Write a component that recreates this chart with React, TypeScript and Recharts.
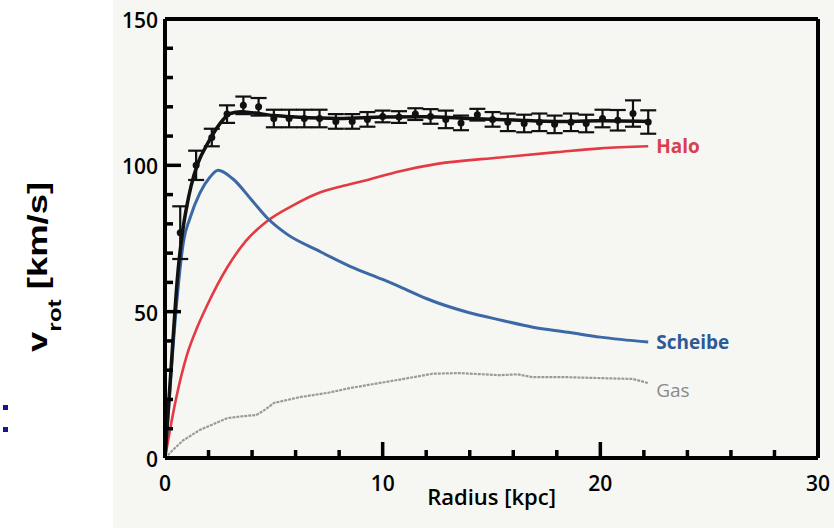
import { ComposedChart, Line, Scatter, ErrorBar, XAxis, YAxis, ReferenceLine } from "recharts";

// --- Messdaten mit Fehlerbalken ---
const measured = [
  { x: 0.7, v: 77, err: 9 },
  { x: 1.43, v: 100, err: 5 },
  { x: 2.15, v: 109.5, err: 3 },
  { x: 2.85, v: 117.5, err: 3 },
  { x: 3.6, v: 120.5, err: 3 },
  { x: 4.3, v: 120, err: 3 },
  { x: 5.0, v: 116, err: 3 },
  { x: 5.7, v: 116, err: 3 },
  { x: 6.4, v: 116, err: 3 },
  { x: 7.1, v: 116, err: 3 },
  { x: 7.85, v: 115, err: 2.5 },
  { x: 8.6, v: 115, err: 2.5 },
  { x: 9.3, v: 115.7, err: 2.5 },
  { x: 10.0, v: 116.7, err: 2 },
  { x: 10.75, v: 116.5, err: 2 },
  { x: 11.5, v: 117.5, err: 2 },
  { x: 12.2, v: 116.7, err: 2.5 },
  { x: 12.9, v: 115.7, err: 3 },
  { x: 13.6, v: 114.5, err: 2.5 },
  { x: 14.35, v: 117.3, err: 2 },
  { x: 15.05, v: 115.7, err: 2.5 },
  { x: 15.75, v: 114.7, err: 3 },
  { x: 16.5, v: 114.3, err: 3 },
  { x: 17.2, v: 114.7, err: 3 },
  { x: 17.9, v: 114, err: 3 },
  { x: 18.65, v: 114.7, err: 3 },
  { x: 19.35, v: 114.3, err: 3 },
  { x: 20.1, v: 116, err: 3 },
  { x: 20.8, v: 115.4, err: 3.5 },
  { x: 21.5, v: 117.7, err: 4.5 },
  { x: 22.2, v: 114.8, err: 4 },
];

// --- Modellkurven ---
const total = [
  { x: 0, v: 0 }, { x: 0.3, v: 33 }, { x: 0.6, v: 64 }, { x: 0.8, v: 77 },
  { x: 1.0, v: 86 }, { x: 1.2, v: 93 }, { x: 1.5, v: 100.5 }, { x: 2.0, v: 108 },
  { x: 2.5, v: 114 }, { x: 3.0, v: 117.7 }, { x: 3.5, v: 118.3 }, { x: 4.0, v: 118 },
  { x: 5.0, v: 117 }, { x: 6.0, v: 116.5 }, { x: 8.0, v: 116 }, { x: 10.0, v: 116.5 },
  { x: 12.0, v: 116.6 }, { x: 14.0, v: 116 }, { x: 16.0, v: 115.5 }, { x: 18.0, v: 115 },
  { x: 20.0, v: 115.2 }, { x: 22.2, v: 115 },
];

const halo = [
  { x: 0, v: 0 }, { x: 0.23, v: 9.6 }, { x: 0.5, v: 20 }, { x: 1.0, v: 35 },
  { x: 1.5, v: 45 }, { x: 1.9, v: 51.6 }, { x: 2.85, v: 65 }, { x: 3.7, v: 74 },
  { x: 4.7, v: 81 }, { x: 5.8, v: 86 }, { x: 7.0, v: 90.4 }, { x: 8.2, v: 93 },
  { x: 9.3, v: 95 }, { x: 10.8, v: 98 }, { x: 12.5, v: 100.5 }, { x: 15.4, v: 102.7 },
  { x: 18.0, v: 104.5 }, { x: 20.0, v: 105.8 }, { x: 22.2, v: 106.5 },
];

const disk = [
  { x: 0, v: 0 }, { x: 0.15, v: 15 }, { x: 0.37, v: 38 }, { x: 0.6, v: 58 },
  { x: 0.85, v: 74 }, { x: 1.15, v: 82 }, { x: 1.6, v: 90.5 }, { x: 2.07, v: 96 },
  { x: 2.44, v: 98.3 }, { x: 3.1, v: 95.5 }, { x: 4.0, v: 88 }, { x: 4.7, v: 82 },
  { x: 5.6, v: 76.5 }, { x: 7.0, v: 71 }, { x: 8.5, v: 65.5 }, { x: 10.0, v: 61 },
  { x: 10.8, v: 58.5 }, { x: 12.0, v: 54.5 }, { x: 13.9, v: 49.8 }, { x: 15.5, v: 47 },
  { x: 16.9, v: 44.7 }, { x: 18.5, v: 43 }, { x: 20.0, v: 41.3 }, { x: 22.2, v: 39.6 },
];

const gas = [
  { x: 0, v: 0 }, { x: 0.4, v: 3 }, { x: 0.83, v: 6 }, { x: 1.6, v: 9.6 },
  { x: 2.2, v: 11.5 }, { x: 2.85, v: 13.6 }, { x: 3.6, v: 14.3 }, { x: 4.2, v: 14.7 },
  { x: 4.6, v: 16.5 }, { x: 5.0, v: 18.8 }, { x: 6.2, v: 20.8 }, { x: 7.5, v: 22.3 },
  { x: 8.5, v: 23.9 }, { x: 10.0, v: 25.8 }, { x: 10.8, v: 26.8 }, { x: 12.3, v: 28.8 },
  { x: 13.5, v: 29 }, { x: 15.4, v: 28.3 }, { x: 16.2, v: 28.6 }, { x: 16.9, v: 27.6 },
  { x: 18.5, v: 27.6 }, { x: 20.0, v: 27.3 }, { x: 21.5, v: 27 }, { x: 22.2, v: 25.6 },
];

// --- Achsen ---
const xTicks = [0, 2, 4, 6, 8, 10, 12, 14, 16, 18, 20, 22, 24, 26, 28, 30];
const xLabels = [0, 10, 20, 30];
const yTicks = [0, 10, 20, 30, 40, 50, 60, 70, 80, 90, 100, 110, 120, 130, 140, 150];
const yLabels = [0, 50, 100, 150];

const tickFont = { fontFamily: "'Open Sans', sans-serif", fontSize: 21, fontWeight: 600, fill: "#000" };

const XTick = ({ x, y, payload }: any) => {
  const major = xLabels.includes(payload.value);
  return (
    <g>
      <line x1={x} x2={x} y1={y} y2={y - (major ? 16 : 8)} stroke="#000" strokeWidth={3.5} />
      {major && (
        <text x={x} y={y + 33} textAnchor="middle" {...tickFont}>{payload.value}</text>
      )}
    </g>
  );
};

const YTick = ({ x, y, payload }: any) => {
  const major = yLabels.includes(payload.value);
  return (
    <g>
      <line x1={x} x2={x + (major ? 16 : 8)} y1={y} y2={y} stroke="#000" strokeWidth={3.5} />
      {major && (
        <text x={x - 7} y={y + 9} textAnchor="end" {...tickFont}>{payload.value}</text>
      )}
    </g>
  );
};

const endLabel = (data: any[], text: string, color: string, weight: number, dy: number) =>
  (props: any) => {
    if (props.index !== data.length - 1) return null;
    return (
      <text key="end" x={props.x + 8} y={props.y + dy} fill={color}
        fontFamily="'Open Sans', sans-serif" fontSize={19} fontWeight={weight}>
        {text}
      </text>
    );
  };

const frame = { stroke: "#000", strokeWidth: 4, ifOverflow: "visible" as const };

export default function App() {
  return (
    <div style={{ position: "absolute", left: 0, top: 0, width: 834, height: 528, background: "#fff" }}>
      <div style={{ position: "absolute", left: 113, top: 0, width: 721, height: 528, background: "#f6f6f3" }} />
      <svg width={834} height={528} style={{ position: "absolute", left: 0, top: 0 }}>
        <rect x={3} y={405} width={5} height={5} fill="#16168a" />
        <rect x={3} y={427} width={5} height={5} fill="#16168a" />
        <text transform="translate(47, 352) rotate(-90) scale(1.35, 1)"
          fontFamily="'Liberation Sans', Arial, sans-serif" fontWeight="bold" fontSize={27} fill="#000">
          v<tspan fontSize={18} dy={14}>rot</tspan><tspan dy={-14}> [km/s]</tspan>
        </text>
      </svg>
      <div style={{ position: "absolute", left: 0, top: 0 }}>
        <ComposedChart width={834} height={528} margin={{ top: 19, right: 16, bottom: 69, left: 164 }}>
          <XAxis type="number" dataKey="x" domain={[0, 30]} ticks={xTicks} interval={0}
            height={1} tickSize={0} tickMargin={0} tickLine={false}
            axisLine={false} tick={<XTick />}
            label={{ value: "Radius [kpc]", position: "bottom", offset: 30,
              style: { fontFamily: "'Open Sans', sans-serif", fontSize: 22, fontWeight: 600, fill: "#000" } }} />
          <YAxis type="number" dataKey="v" domain={[0, 150]} ticks={yTicks} interval={0}
            width={1} tickSize={0} tickMargin={0} tickLine={false}
            axisLine={false} tick={<YTick />} />
          <ReferenceLine y={150} {...frame} />
          <ReferenceLine x={30} {...frame} />
          <Line data={gas} dataKey="v" type="linear" stroke="#9a9a9a" strokeWidth={2.2}
            strokeDasharray="3 1" dot={false} isAnimationActive={false}
            label={endLabel(gas, "Gas", "#8a8a8a", 400, 14)} />
          <Line data={halo} dataKey="v" type="monotone" stroke="#e33a44" strokeWidth={2.6}
            dot={false} isAnimationActive={false}
            label={endLabel(halo, "Halo", "#d8404b", 700, 7)} />
          <Line data={disk} dataKey="v" type="monotone" stroke="#3d68a6" strokeWidth={3}
            dot={false} isAnimationActive={false}
            label={endLabel(disk, "Scheibe", "#2d5a96", 700, 7)} />
          <Line data={total} dataKey="v" type="monotone" stroke="#111" strokeWidth={3.5}
            dot={false} isAnimationActive={false} />
          <Scatter data={measured} dataKey="v" fill="#111" isAnimationActive={false}
            shape={(p: any) => <circle cx={p.cx} cy={p.cy} r={3.5} fill="#111" />}>
            <ErrorBar dataKey="err" direction="y" width={8} stroke="#111" strokeWidth={2.2} />
          </Scatter>
          <ReferenceLine y={0} {...frame} />
          <ReferenceLine x={0} {...frame} />
        </ComposedChart>
      </div>
    </div>
  );
}
